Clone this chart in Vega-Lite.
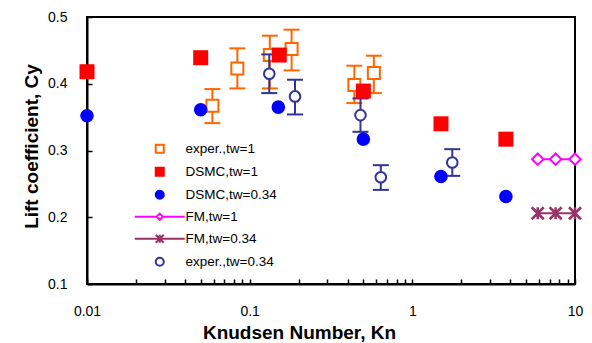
{
  "$schema": "https://vega.github.io/schema/vega-lite/v6.json",
  "width": 488,
  "height": 267,
  "autosize": {"type": "none"},
  "padding": {"left": 87, "top": 17, "right": 17, "bottom": 59},
  "background": "white",
  "config": {
    "font": "Liberation Sans",
    "view": {"stroke": "black", "strokeWidth": 2},
    "axis": {
      "grid": false,
      "domainColor": "black",
      "domainWidth": 2,
      "tickColor": "black",
      "tickWidth": 1.5,
      "tickSize": -5,
      "labelFont": "Liberation Sans",
      "labelFontSize": 14,
      "labelColor": "black",
      "titleFont": "Liberation Sans",
      "titleFontSize": 19,
      "titleFontWeight": "bold",
      "titleColor": "black"
    },
    "legend": {
      "orient": "none",
      "legendX": 66,
      "legendY": 125,
      "padding": 0,
      "labelFont": "Liberation Sans",
      "labelFontSize": 13.5,
      "labelColor": "black",
      "symbolSize": 64,
      "symbolStrokeWidth": 2,
      "rowPadding": 6,
      "labelOffset": 19
    }
  },
  "data": {
    "values": [
      {"series": "exper.,tw=1", "kn": 0.059, "cy": 0.367, "lo": 0.341, "hi": 0.392},
      {"series": "exper.,tw=1", "kn": 0.084, "cy": 0.423, "lo": 0.393, "hi": 0.453},
      {"series": "exper.,tw=1", "kn": 0.133, "cy": 0.443, "lo": 0.393, "hi": 0.472},
      {"series": "exper.,tw=1", "kn": 0.181, "cy": 0.452, "lo": 0.42, "hi": 0.481},
      {"series": "exper.,tw=1", "kn": 0.44, "cy": 0.398, "lo": 0.371, "hi": 0.427},
      {"series": "exper.,tw=1", "kn": 0.58, "cy": 0.416, "lo": 0.386, "hi": 0.442},
      {"series": "exper.,tw=0.34", "kn": 0.132, "cy": 0.415, "lo": 0.386, "hi": 0.444},
      {"series": "exper.,tw=0.34", "kn": 0.19, "cy": 0.381, "lo": 0.354, "hi": 0.406},
      {"series": "exper.,tw=0.34", "kn": 0.48, "cy": 0.353, "lo": 0.328, "hi": 0.378},
      {"series": "exper.,tw=0.34", "kn": 0.64, "cy": 0.26, "lo": 0.241, "hi": 0.278},
      {"series": "exper.,tw=0.34", "kn": 1.76, "cy": 0.282, "lo": 0.262, "hi": 0.302},
      {"series": "DSMC,tw=1", "kn": 0.01, "cy": 0.418},
      {"series": "DSMC,tw=1", "kn": 0.05, "cy": 0.439},
      {"series": "DSMC,tw=1", "kn": 0.152, "cy": 0.443},
      {"series": "DSMC,tw=1", "kn": 0.5, "cy": 0.389},
      {"series": "DSMC,tw=1", "kn": 1.5, "cy": 0.34},
      {"series": "DSMC,tw=1", "kn": 3.76, "cy": 0.317},
      {"series": "DSMC,tw=0.34", "kn": 0.01, "cy": 0.352},
      {"series": "DSMC,tw=0.34", "kn": 0.05, "cy": 0.361},
      {"series": "DSMC,tw=0.34", "kn": 0.15, "cy": 0.365},
      {"series": "DSMC,tw=0.34", "kn": 0.5, "cy": 0.317},
      {"series": "DSMC,tw=0.34", "kn": 1.5, "cy": 0.261},
      {"series": "DSMC,tw=0.34", "kn": 3.76, "cy": 0.231},
      {"series": "FM,tw=1", "kn": 5.9, "cy": 0.287},
      {"series": "FM,tw=1", "kn": 7.6, "cy": 0.287},
      {"series": "FM,tw=1", "kn": 10, "cy": 0.287},
      {"series": "FM,tw=0.34", "kn": 5.9, "cy": 0.206},
      {"series": "FM,tw=0.34", "kn": 7.6, "cy": 0.206},
      {"series": "FM,tw=0.34", "kn": 10, "cy": 0.206}
    ]
  },
  "encoding": {
    "x": {
      "field": "kn",
      "type": "quantitative",
      "title": "Knudsen Number, Kn",
      "scale": {"type": "log", "domain": [0.01, 10], "nice": false},
      "axis": {
        "values": [0.01, 0.02, 0.03, 0.04, 0.05, 0.06, 0.07, 0.08, 0.09, 0.1, 0.2, 0.3, 0.4, 0.5, 0.6, 0.7, 0.8, 0.9, 1, 2, 3, 4, 5, 6, 7, 8, 9, 10],
        "format": "~g",
        "labelExpr": "(datum.value == 0.01 || datum.value == 0.1 || datum.value == 1 || datum.value == 10) ? datum.label : ''",
        "labelPadding": 25,
        "labelFlush": false,
        "titleX": 212,
        "titleY": 54,
        "titleAlign": "center",
        "titleBaseline": "alphabetic"
      }
    },
    "y": {
      "field": "cy",
      "type": "quantitative",
      "title": "Lift coefficient, Cy",
      "scale": {"domain": [0.1, 0.5], "nice": false, "zero": false},
      "axis": {
        "values": [0.1, 0.2, 0.3, 0.4, 0.5],
        "format": ".1f",
        "labelPadding": 25,
        "labelFlush": false,
        "titleX": -50,
        "titleY": 129,
        "titleAngle": -90,
        "titleAlign": "center",
        "titleBaseline": "alphabetic"
      }
    }
  },
  "layer": [
    {
      "transform": [{"filter": "datum.series == 'FM,tw=1'"}],
      "mark": {"type": "line", "color": "#FF00FF", "strokeWidth": 2}
    },
    {
      "transform": [{"filter": "datum.series == 'FM,tw=0.34'"}],
      "mark": {"type": "line", "color": "#993366", "strokeWidth": 2}
    },
    {
      "transform": [{"filter": "datum.series == 'FM,tw=1'"}],
      "mark": {"type": "point", "shape": "diamond", "size": 130, "filled": false, "fill": "white", "fillOpacity": 1, "stroke": "#FF00FF", "strokeWidth": 2, "opacity": 1}
    },
    {
      "transform": [{"filter": "datum.series == 'FM,tw=0.34'"}],
      "mark": {"type": "point", "shape": "M-1,-1L1,1M-1,1L1,-1M0,-1V1", "size": 144, "filled": false, "stroke": "#993366", "strokeWidth": 2.5, "opacity": 1}
    },
    {
      "transform": [{"filter": "datum.series == 'exper.,tw=1'"}],
      "mark": {"type": "rule", "color": "#FF6600", "strokeWidth": 2},
      "encoding": {"y": {"field": "lo", "type": "quantitative", "title": "Lift coefficient, Cy"}, "y2": {"field": "hi"}}
    },
    {
      "transform": [{"filter": "datum.series == 'exper.,tw=1'"}],
      "mark": {"type": "tick", "orient": "horizontal", "color": "#FF6600", "size": 16, "thickness": 2, "opacity": 1},
      "encoding": {"y": {"field": "lo", "type": "quantitative", "title": "Lift coefficient, Cy"}}
    },
    {
      "transform": [{"filter": "datum.series == 'exper.,tw=1'"}],
      "mark": {"type": "tick", "orient": "horizontal", "color": "#FF6600", "size": 16, "thickness": 2, "opacity": 1},
      "encoding": {"y": {"field": "hi", "type": "quantitative", "title": "Lift coefficient, Cy"}}
    },
    {
      "transform": [{"filter": "datum.series == 'exper.,tw=1'"}],
      "mark": {"type": "point", "shape": "square", "size": 144, "filled": false, "fill": "white", "fillOpacity": 1, "stroke": "#FF6600", "strokeWidth": 2, "opacity": 1}
    },
    {
      "transform": [{"filter": "datum.series == 'exper.,tw=0.34'"}],
      "mark": {"type": "rule", "color": "#333399", "strokeWidth": 2},
      "encoding": {"y": {"field": "lo", "type": "quantitative", "title": "Lift coefficient, Cy"}, "y2": {"field": "hi"}}
    },
    {
      "transform": [{"filter": "datum.series == 'exper.,tw=0.34'"}],
      "mark": {"type": "tick", "orient": "horizontal", "color": "#333399", "size": 16, "thickness": 2, "opacity": 1},
      "encoding": {"y": {"field": "lo", "type": "quantitative", "title": "Lift coefficient, Cy"}}
    },
    {
      "transform": [{"filter": "datum.series == 'exper.,tw=0.34'"}],
      "mark": {"type": "tick", "orient": "horizontal", "color": "#333399", "size": 16, "thickness": 2, "opacity": 1},
      "encoding": {"y": {"field": "hi", "type": "quantitative", "title": "Lift coefficient, Cy"}}
    },
    {
      "transform": [{"filter": "datum.series == 'exper.,tw=0.34'"}],
      "mark": {"type": "point", "shape": "circle", "size": 113, "filled": false, "fill": "white", "fillOpacity": 1, "stroke": "#333399", "strokeWidth": 2, "opacity": 1}
    },
    {
      "transform": [{"filter": "datum.series == 'DSMC,tw=1'"}],
      "mark": {"type": "point", "shape": "square", "size": 225, "filled": true, "color": "#FF0000", "opacity": 1}
    },
    {
      "transform": [{"filter": "datum.series == 'DSMC,tw=0.34'"}],
      "mark": {"type": "point", "shape": "circle", "size": 185, "filled": true, "color": "#0000FF", "opacity": 1}
    },
    {
      "transform": [{"filter": "false"}],
      "mark": {"type": "point", "opacity": 1, "strokeWidth": 2},
      "encoding": {
        "shape": {
          "field": "series",
          "type": "nominal",
          "scale": {
            "domain": ["exper.,tw=1", "DSMC,tw=1", "DSMC,tw=0.34", "FM,tw=1", "FM,tw=0.34", "exper.,tw=0.34"],
            "range": ["square", "square", "circle", "M-6.25,0H-0.8M0.8,0H6.25M-0.8,0L0,-0.8L0.8,0L0,0.8Z", "M-6.25,0H6.25M-1,-1L1,1M-1,1L1,-1M0,-1V1", "circle"]
          },
          "legend": {"title": null}
        },
        "stroke": {
          "field": "series",
          "type": "nominal",
          "scale": {
            "domain": ["exper.,tw=1", "DSMC,tw=1", "DSMC,tw=0.34", "FM,tw=1", "FM,tw=0.34", "exper.,tw=0.34"],
            "range": ["#FF6600", "#FF0000", "#0000FF", "#FF00FF", "#993366", "#333399"]
          },
          "legend": {"title": null}
        },
        "fill": {
          "field": "series",
          "type": "nominal",
          "scale": {
            "domain": ["exper.,tw=1", "DSMC,tw=1", "DSMC,tw=0.34", "FM,tw=1", "FM,tw=0.34", "exper.,tw=0.34"],
            "range": ["white", "#FF0000", "#0000FF", "white", "#993366", "white"]
          },
          "legend": {"title": null}
        }
      }
    }
  ]
}
